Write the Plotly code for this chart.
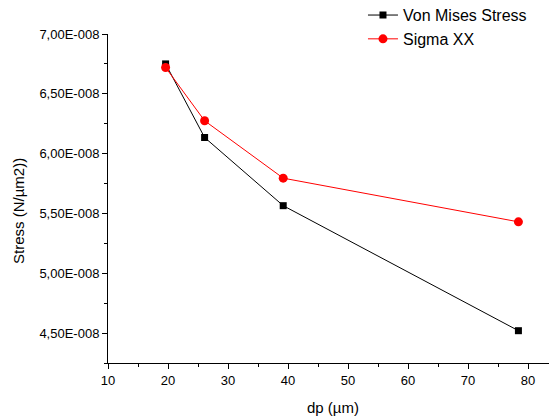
import plotly.graph_objects as go

dp = [19.6, 26.1, 39.2, 78.4]
von_mises = [6.75e-8, 6.135e-8, 5.565e-8, 4.52e-8]
sigma_xx = [6.72e-8, 6.275e-8, 5.795e-8, 5.43e-8]

y_tickvals = [4.5e-8, 5.0e-8, 5.5e-8, 6.0e-8, 6.5e-8, 7.0e-8]
y_ticktext = ["4,50E-008", "5,00E-008", "5,50E-008", "6,00E-008", "6,50E-008", "7,00E-008"]
x_tickvals = [10, 20, 30, 40, 50, 60, 70, 80]
x_title = "dp (µm)"
y_title = "Stress (N/µm2))"

font_family = "Liberation Sans, Arial, sans-serif"

fig = go.Figure()
fig.add_trace(go.Scatter(
    x=dp, y=von_mises, mode="lines+markers", name="Von Mises Stress",
    line=dict(color="black", width=1),
    marker=dict(symbol="square", size=7, color="black"),
))
fig.add_trace(go.Scatter(
    x=dp, y=sigma_xx, mode="lines+markers", name="Sigma XX",
    line=dict(color="red", width=1),
    marker=dict(symbol="circle", size=9, color="red"),
))

# page body has an 8px margin: figure is sized/offset to compensate
fig.update_layout(
    width=549, height=411,
    margin=dict(l=100, r=0, t=26, b=56, autoexpand=False),
    paper_bgcolor="white", plot_bgcolor="white",
    font=dict(family=font_family, size=13, color="black"),
    legend=dict(x=0.6466, y=1.109, xref="container", yref="paper",
                xanchor="left", yanchor="top",
                font=dict(size=16), bgcolor="rgba(0,0,0,0)",
                tracegroupgap=0, itemwidth=30),
    showlegend=True,
    annotations=[
        dict(text=x_title, xref="paper", yref="paper", x=0.5, y=0, yshift=-44,
             xanchor="center", yanchor="middle", showarrow=False, font=dict(size=15)),
        dict(text=y_title, xref="paper", yref="paper", x=0, xshift=-90, y=0.462,
             xanchor="center", yanchor="middle", textangle=-90, showarrow=False,
             font=dict(size=15)),
    ],
)
fig.update_xaxes(
    range=[10, 84.83], tickvals=x_tickvals, automargin=False,
    showline=True, linecolor="black", linewidth=1,
    ticks="outside", ticklen=5, tickcolor="black",
    minor=dict(ticks="outside", ticklen=3, dtick=5, tick0=5, tickcolor="black"),
    showgrid=False, zeroline=False,
    tickfont=dict(size=13),
)
fig.update_yaxes(
    range=[4.25e-8, 7.0e-8], tickmode="array", tickvals=y_tickvals, ticktext=y_ticktext,
    automargin=False,
    showline=True, linecolor="black", linewidth=1,
    ticks="outside", ticklen=5, tickcolor="black",
    minor=dict(ticks="outside", ticklen=3, dtick=0.25e-8, tick0=4.25e-8, tickcolor="black"),
    showgrid=False, zeroline=False,
    tickfont=dict(size=13),
)

fig.write_html("out.html")
